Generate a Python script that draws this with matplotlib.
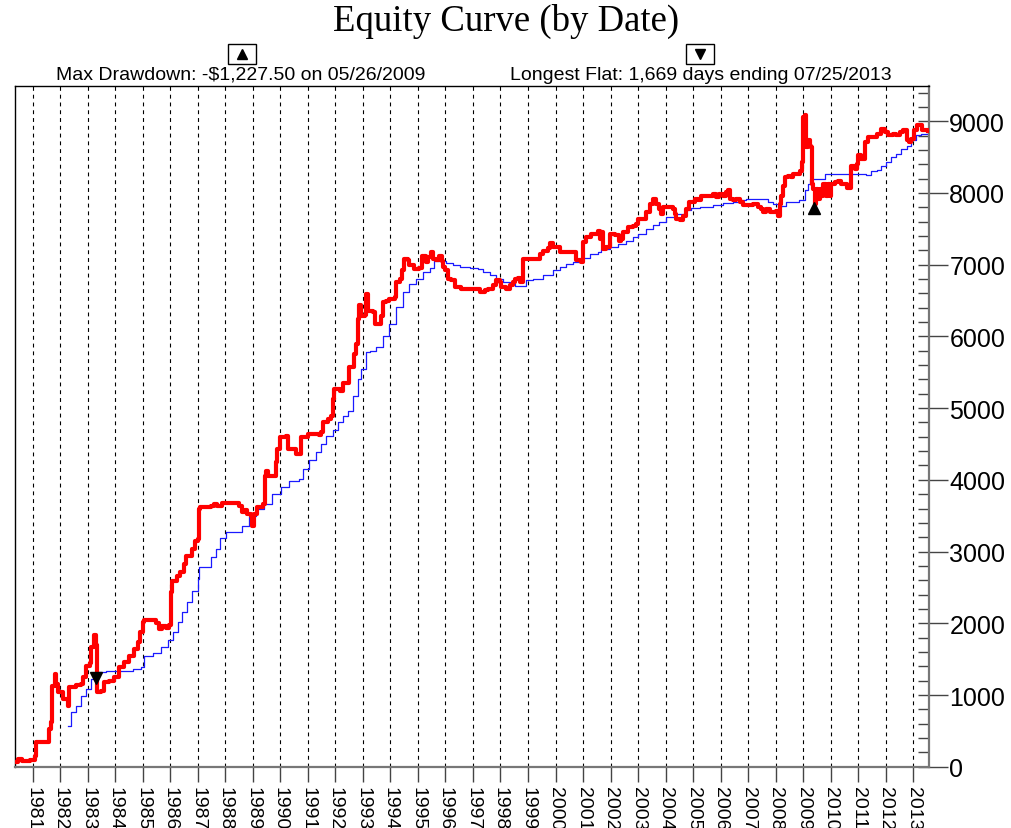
import numpy as np
import matplotlib
matplotlib.use("Agg")
import matplotlib.pyplot as plt
from matplotlib.ticker import MultipleLocator
from matplotlib.patches import Rectangle

# equity curve (red) as (decimal year, value)
red_years = [1980.33, 1980.45, 1980.58, 1980.62, 1980.80, 1980.88, 1981.06, 1981.12, 1981.54, 1981.58,
             1981.67, 1981.70, 1981.79, 1981.85, 1981.91, 1982.09, 1982.27, 1982.33, 1982.57, 1982.75,
             1982.84, 1982.93, 1983.06, 1983.12, 1983.24, 1983.30, 1983.33, 1983.48, 1983.60, 1983.78,
             1983.96, 1984.14, 1984.33, 1984.51, 1984.69, 1984.81, 1984.89, 1984.99, 1985.05, 1985.47,
             1985.59, 1985.70, 1985.84, 1985.96, 1986.04, 1986.06, 1986.24, 1986.36, 1986.49, 1986.55,
             1986.79, 1986.91, 1987.01, 1987.03, 1987.09, 1987.46, 1987.58, 1987.70, 1987.89, 1988.37,
             1988.49, 1988.59, 1988.70, 1988.80, 1988.92, 1988.96, 1989.04, 1989.16, 1989.35, 1989.44,
             1989.49, 1989.55, 1989.83, 1989.89, 1989.98, 1990.20, 1990.26, 1990.56, 1990.74, 1991.02,
             1991.41, 1991.47, 1991.54, 1991.72, 1991.84, 1991.92, 1991.96, 1992.15, 1992.27, 1992.49,
             1992.51, 1992.69, 1992.75, 1992.81, 1992.87, 1992.93, 1993.06, 1993.12, 1993.18, 1993.36,
             1993.45, 1993.64, 1993.72, 1993.84, 1993.96, 1994.15, 1994.21, 1994.33, 1994.42, 1994.51,
             1994.63, 1994.69, 1994.87, 1995.05, 1995.16, 1995.30, 1995.36, 1995.48, 1995.55, 1995.66,
             1995.78, 1995.88, 1995.90, 1995.97, 1996.10, 1996.21, 1996.33, 1996.58, 1997.18, 1997.24,
             1997.42, 1997.55, 1997.73, 1997.85, 1997.97, 1998.03, 1998.21, 1998.33, 1998.45, 1998.52,
             1998.64, 1998.70, 1998.82, 1999.30, 1999.42, 1999.55, 1999.73, 1999.79, 1999.91, 2000.15,
             2000.76, 2000.94, 2001.00, 2001.12, 2001.30, 2001.54, 2001.61, 2001.67, 2001.73, 2001.85,
             2001.97, 2002.15, 2002.31, 2002.39, 2002.45, 2002.63, 2002.82, 2002.94, 2003.00, 2003.30,
             2003.42, 2003.54, 2003.66, 2003.78, 2003.84, 2003.91, 2004.27, 2004.33, 2004.39, 2004.51,
             2004.63, 2004.75, 2004.87, 2005.06, 2005.18, 2005.30, 2005.72, 2005.84, 2005.96, 2006.08,
             2006.21, 2006.27, 2006.33, 2006.45, 2006.57, 2006.69, 2006.81, 2007.17, 2007.36, 2007.48,
             2007.54, 2007.66, 2007.78, 2008.02, 2008.08, 2008.15, 2008.21, 2008.27, 2008.36, 2008.45,
             2008.57, 2008.63, 2008.90, 2008.97, 2009.00, 2009.06, 2009.12, 2009.18, 2009.24, 2009.30,
             2009.33, 2009.36, 2009.42, 2009.48, 2009.54, 2009.60, 2009.66, 2009.72, 2009.84, 2009.91,
             2009.97, 2010.03, 2010.15, 2010.27, 2010.39, 2010.60, 2010.75, 2010.88, 2010.97, 2011.00,
             2011.12, 2011.24, 2011.36, 2011.67, 2011.85, 2011.97, 2012.09, 2012.27, 2012.39, 2012.51,
             2012.64, 2012.76, 2012.85, 2012.93, 2013.05, 2013.14, 2013.24, 2013.34, 2013.54]
red_vals = [70, 110, 110, 80, 80, 100, 150, 350, 350, 525,
            620, 1130, 1290, 1150, 1040, 945, 850, 1110, 1140, 1160,
            1250, 1410, 1450, 1670, 1840, 1700, 1040, 1060, 1180, 1190,
            1250, 1390, 1460, 1550, 1640, 1740, 1880, 2015, 2040, 2000,
            1920, 1960, 1940, 1980, 2430, 2595, 2665, 2710, 2830, 2945,
            3035, 3150, 3175, 3595, 3620, 3640, 3660, 3630, 3680, 3680,
            3640, 3550, 3580, 3530, 3500, 3360, 3530, 3620, 3660, 4060,
            4130, 4060, 4250, 4430, 4600, 4610, 4430, 4360, 4600, 4640,
            4620, 4670, 4805, 4850, 4895, 5130, 5270, 5245, 5350, 5350,
            5570, 5755, 5895, 6245, 6440, 6290, 6300, 6590, 6360, 6340,
            6175, 6290, 6475, 6490, 6520, 6545, 6755, 6800, 6920, 7080,
            7060, 6990, 6940, 6960, 7125, 7030, 7100, 7180, 7080, 7060,
            7125, 7050, 6965, 6920, 6800, 6780, 6685, 6665, 6665, 6620,
            6640, 6665, 6710, 6780, 6760, 6690, 6665, 6710, 6760, 6800,
            6820, 6760, 7080, 7080, 7150, 7195, 7230, 7300, 7240, 7175,
            7060, 7040, 7315, 7385, 7430, 7476, 7360, 7462, 7220, 7244,
            7430, 7410, 7336, 7360, 7453, 7523, 7545, 7569, 7639, 7732,
            7848, 7918, 7848, 7778, 7709, 7802, 7780, 7709, 7639, 7629,
            7685, 7778, 7871, 7918, 7895, 7964, 7987, 7941, 7987, 7964,
            8011, 8034, 7918, 7895, 7918, 7871, 7825, 7848, 7802, 7778,
            7732, 7779, 7740, 7745, 7685, 7848, 7964, 8103, 8221, 8240,
            8221, 8266, 8300, 8430, 9057, 9080, 8639, 8731, 8660, 8639,
            8127, 8057, 7850, 8050, 7918, 8057, 7964, 8127, 7964, 8127,
            7964, 8127, 8150, 8170, 8127, 8070, 8382, 8335, 8405, 8522,
            8475, 8708, 8778, 8824, 8894, 8848, 8801, 8824, 8801, 8848,
            8871, 8731, 8708, 8755, 8871, 8940, 8950, 8871, 8862]

# moving average (blue)
blue_years = [1982.27, 1982.39, 1982.57, 1982.75, 1982.93, 1983.12, 1983.36, 1983.66, 1984.63, 1984.93,
              1985.05, 1985.35, 1985.66, 1985.90, 1986.08, 1986.26, 1986.44, 1986.62, 1986.80, 1986.99,
              1987.05, 1987.40, 1987.46, 1987.64, 1987.82, 1988.03, 1988.43, 1988.62, 1988.86, 1989.10,
              1989.41, 1989.71, 1990.01, 1990.32, 1990.68, 1990.81, 1991.05, 1991.29, 1991.47, 1991.66,
              1991.90, 1992.08, 1992.27, 1992.45, 1992.63, 1992.81, 1992.93, 1993.12, 1993.24, 1993.48,
              1993.72, 1993.96, 1994.21, 1994.45, 1994.69, 1994.93, 1995.17, 1995.42, 1995.60, 1995.85,
              1996.03, 1996.27, 1996.52, 1996.88, 1997.18, 1997.36, 1997.61, 1997.85, 1998.09, 1998.33,
              1998.52, 1998.70, 1998.94, 1999.18, 1999.55, 1999.91, 2000.15, 2000.39, 2000.64, 2000.94,
              2001.24, 2001.54, 2001.67, 2001.97, 2002.27, 2002.55, 2002.82, 2003.00, 2003.30, 2003.54,
              2003.78, 2004.03, 2004.39, 2004.75, 2004.93, 2005.24, 2005.72, 2006.08, 2006.45, 2006.69,
              2006.93, 2007.54, 2007.72, 2007.90, 2008.08, 2008.21, 2008.39, 2008.63, 2008.87, 2009.06,
              2009.18, 2009.24, 2009.54, 2009.78, 2011.12, 2011.30, 2011.48, 2011.67, 2011.85, 2012.03,
              2012.21, 2012.39, 2012.57, 2012.76, 2012.94, 2013.12, 2013.30, 2013.54]
blue_vals = [570, 760, 850, 990, 1080, 1220, 1320, 1340, 1360, 1390,
             1550, 1580, 1670, 1760, 1880, 2015, 2155, 2290, 2450, 2620,
             2785, 2790, 2925, 3035, 3190, 3270, 3270, 3360, 3500, 3595,
             3660, 3800, 3900, 3990, 4010, 4150, 4270, 4390, 4500, 4615,
             4690, 4805, 4895, 4965, 5175, 5405, 5545, 5780, 5790, 5850,
             6010, 6175, 6405, 6620, 6730, 6800, 6895, 6960, 7045, 7050,
             7020, 7000, 6965, 6950, 6940, 6895, 6850, 6800, 6760, 6730,
             6700, 6700, 6780, 6800, 6850, 6920, 6965, 7010, 7030, 7090,
             7150, 7174, 7215, 7244, 7290, 7336, 7383, 7430, 7500, 7555,
             7593, 7663, 7709, 7755, 7787, 7802, 7833, 7860, 7880, 7895,
             7918, 7918, 7871, 7848, 7802, 7815, 7871, 7880, 7900, 8034,
             8127, 8196, 8200, 8266, 8266, 8250, 8300, 8320, 8382, 8430,
             8499, 8545, 8615, 8660, 8731, 8801, 8824, 8830]

# drawdown / flat markers
peak_mark = (1983.30, 1240)
trough_mark = (2009.38, 7790)

years = list(range(1981, 2014))

sans = ["Liberation Sans", "DejaVu Sans"]
serif = ["Liberation Serif", "DejaVu Serif"]

fig = plt.figure(figsize=(10.12, 8.29), dpi=100)
ax = fig.add_axes([0.0148, 0.0739, 0.9027, 0.8211])

for y in years:
    ax.axvline(y, color="black", lw=0.8, linestyle=(0, (3.5, 3.5)), zorder=1)

ax.plot(blue_years, blue_vals, color="#1a1aff", lw=0.9, drawstyle="steps-post", zorder=2)
ax.plot(red_years, red_vals, color="#ff0000", lw=3.0, drawstyle="steps-post", zorder=3)
ax.plot(*peak_mark, marker="v", color="black", ms=9, zorder=4)
ax.plot(*trough_mark, marker="^", color="black", ms=9, zorder=4)

ax.set_xlim(1980.35, 2013.56)
ax.set_ylim(0, 9490)

ax.set_xticks(years)
ax.set_xticklabels([str(y) for y in years], rotation=270, fontsize=14, family=sans)
ax.tick_params(axis="x", direction="out", length=11, width=1, color="#444444", pad=3)

ax.yaxis.tick_right()
ax.yaxis.set_major_locator(MultipleLocator(1000))
ax.yaxis.set_minor_locator(MultipleLocator(200))
ax.yaxis.remove_overlapping_locs = False
ax.tick_params(axis="y", which="major", direction="out", length=14, width=1, color="#444444",
               labelsize=18, pad=1)
ax.tick_params(axis="y", which="minor", direction="in", length=8, width=1, color="#444444")
for lab in ax.get_yticklabels():
    lab.set_family(sans)

for side in ["left", "top"]:
    ax.spines[side].set_color("black")
    ax.spines[side].set_linewidth(1)
for side in ["right", "bottom"]:
    ax.spines[side].set_color("#777777")
    ax.spines[side].set_linewidth(1.6)

# header
fig.text(506 / 1012, 1 - 21 / 829, "Equity Curve (by Date)", ha="center", va="center",
         fontsize=26.5, family=serif)
fig.text(241 / 1012, 1 - 75 / 829, "Max Drawdown: -$1,227.50 on 05/26/2009", ha="center",
         va="center", fontsize=14, family=sans)
fig.text(701 / 1012, 1 - 75 / 829, "Longest Flat: 1,669 days ending 07/25/2013", ha="center",
         va="center", fontsize=14, family=sans)
for cx, mk in [(242, "^"), (700, "v")]:
    fig.patches.append(Rectangle(((cx - 14) / 1012, 1 - 65 / 829), 28 / 1012, 20 / 829,
                                 transform=fig.transFigure, fill=False, ec="black", lw=1))
    fig.add_artist(plt.Line2D([cx / 1012], [1 - 55 / 829], marker=mk, color="black", ms=7,
                              transform=fig.transFigure))

fig.savefig("out.png", dpi=100)
